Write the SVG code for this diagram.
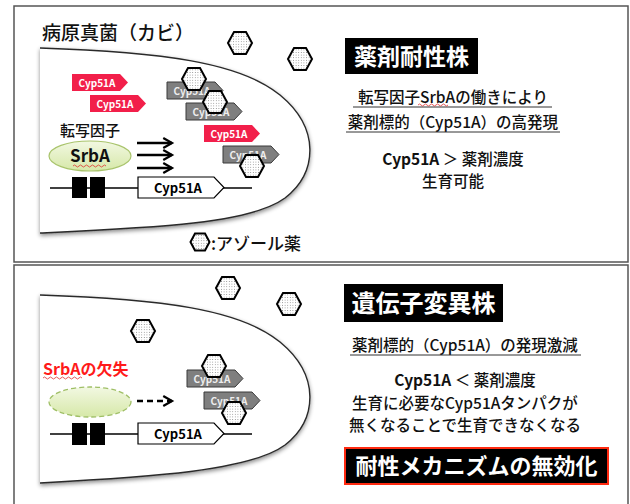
<svg xmlns="http://www.w3.org/2000/svg" width="630" height="504" viewBox="0 0 630 504">
  <style>
    .jp { font-family: "Noto Sans CJK JP", "Noto Sans", sans-serif; font-weight: 500; }
    .jp.b { font-weight: bold; }
    .panel { fill: #fff; stroke: #555; stroke-width: 1.5; }
    .cell { fill: #fff; stroke: #2a2a2a; stroke-width: 1.4; filter: url(#shadow); }
    .hex { fill: url(#dots); stroke: #000; stroke-width: 2; }
    .tag-red { fill: #f21f4a; }
    .tag-gray { fill: #7f7f7f; stroke: #3a3a3a; stroke-width: 1; }
    .tag-text { font-family: "Noto Sans CJK JP", "Open Sans", sans-serif; font-weight: bold; font-size: 10px; fill: #fff; text-anchor: middle; }
    .gray-text { fill: #eee; }
    .gene-line { stroke: #000; stroke-width: 1.6; }
    .gene-box { fill: #fff; stroke: #000; stroke-width: 1.2; }
    .gene-text { font-family: "Noto Sans CJK JP", "Open Sans", sans-serif; font-weight: bold; font-size: 13px; fill: #000; text-anchor: middle; }
    .body { font-size: 15.5px; fill: #111; }
    .center { text-anchor: middle; }
    .ul { stroke: #333; stroke-width: 1; }
    .squiggle { fill: none; stroke: #e03030; stroke-width: 0.8; }
    .arrow { stroke: #000; stroke-width: 2.5; fill: none; }
  </style>
  <defs>
    <pattern id="dots" width="2.6" height="2.6" patternUnits="userSpaceOnUse">
      <rect width="2.6" height="2.6" fill="#fff"/>
      <circle cx="1.3" cy="1.3" r="0.45" fill="#666"/>
    </pattern>
    <filter id="shadow" x="-10%" y="-10%" width="125%" height="130%">
      <feDropShadow dx="0" dy="2" stdDeviation="2" flood-color="#000" flood-opacity="0.45"/>
    </filter>
    <linearGradient id="srbaFill" x1="0" y1="0" x2="0" y2="1">
      <stop offset="0" stop-color="#f2f8e2"/>
      <stop offset="1" stop-color="#d6e8a8"/>
    </linearGradient>
    <polygon id="hexShape" points="-12,0 -6,-11 6,-11 12,0 6,11 -6,11"/>
    <polygon id="hexSmall" points="-9.5,0 -5,-8.5 5,-8.5 9.5,0 5,8.5 -5,8.5"/>
    <polygon id="tagShape" points="0,0 48,0 56,8.5 48,17 0,17"/>
    <marker id="chevron" viewBox="0 0 10 10" refX="8" refY="5" markerWidth="5" markerHeight="5" orient="auto" markerUnits="strokeWidth">
      <polyline points="1,1 8,5 1,9" fill="none" stroke="#000" stroke-width="1.8"/>
    </marker>
  </defs>

  <!-- upper panel: resistant strain -->
  <g id="panel-resistant">
    <rect class="panel" x="14" y="6" width="614" height="256"/>
    <text class="jp" x="42" y="40" font-size="19" fill="#111">病原真菌（カビ）</text>
    <path class="cell" d="M40,48 C160,52 240,62 280,95 C320,128 318,172 285,198 C250,224 150,228 40,233"/>
  </g>

  <g id="drug-outside-top">
    <use href="#hexShape" class="hex" x="240" y="43"/>
    <use href="#hexShape" class="hex" x="300" y="59"/>
  </g>

  <g id="cyp51a-proteins-top">
    <use href="#tagShape" class="tag-red" x="72" y="74"/>
    <text class="tag-text" x="97" y="86.5">Cyp51A</text>
    <use href="#tagShape" class="tag-red" x="90" y="95"/>
    <text class="tag-text" x="115" y="107.5">Cyp51A</text>
    <use href="#tagShape" class="tag-gray" x="167" y="82"/>
    <text class="tag-text gray-text" x="192" y="94.5">Cyp51A</text>
    <use href="#tagShape" class="tag-gray" x="186" y="103"/>
    <text class="tag-text gray-text" x="211" y="115.5">Cyp51A</text>
    <use href="#tagShape" class="tag-red" x="204" y="125"/>
    <text class="tag-text" x="229" y="137.5">Cyp51A</text>
    <use href="#tagShape" class="tag-gray" x="223" y="146"/>
    <text class="tag-text gray-text" x="248" y="158.5">Cyp51A</text>
  </g>

  <g id="drug-bound-top">
    <use href="#hexShape" class="hex" x="194" y="79"/>
    <use href="#hexShape" class="hex" x="215" y="102"/>
    <use href="#hexShape" class="hex" x="252" y="166"/>
  </g>

  <g id="srba-top">
    <text class="jp" x="60" y="136" font-size="15" fill="#111">転写因子</text>
    <ellipse cx="90" cy="156" rx="41" ry="15" fill="url(#srbaFill)" stroke="#a9c46c" stroke-width="1.2"/>
    <text class="jp b" x="90" y="162" font-size="17" fill="#111" text-anchor="middle">SrbA</text>
    <path class="squiggle" d="M73,166 q1.5,-2 3,0 t3,0 t3,0 t3,0 t3,0 t3,0 t3,0 t3,0 t3,0 t3,0 t3,0"/>
  </g>

  <g id="gene-top">
    <line class="gene-line" x1="50" y1="188" x2="252" y2="188"/>
    <rect x="72" y="177" width="15" height="21" fill="#000"/>
    <rect x="90" y="177" width="15" height="21" fill="#000"/>
    <polygon class="gene-box" points="138,177 214,177 224,187.5 214,198 138,198"/>
    <text class="gene-text" x="178" y="193">Cyp51A</text>
  </g>

  <g id="legend">
    <use href="#hexSmall" class="hex" x="200" y="242"/>
    <text class="jp" x="211" y="250" font-size="17" fill="#111">:アゾール薬</text>
  </g>

  <g id="label-resistant">
    <rect x="345" y="38" width="133" height="36" fill="#000"/>
    <text class="jp b" x="411.5" y="65" font-size="23" fill="#fff" text-anchor="middle">薬剤耐性株</text>
    <text class="jp body center" x="453" y="103">転写因子SrbAの働きにより</text>
    <line class="ul" x1="353" y1="107" x2="552" y2="107"/>
    <path class="squiggle" d="M418,105 q1.5,-2 3,0 t3,0 t3,0 t3,0 t3,0 t3,0 t3,0 t3,0 t3,0 t3,0"/>
    <text class="jp body center" x="453" y="128">薬剤標的（Cyp51A）の高発現</text>
    <line class="ul" x1="346" y1="132" x2="560" y2="132"/>
    <text class="jp body center" x="453" y="165" font-size="16"><tspan font-weight="bold">Cyp51A</tspan> ＞ 薬剤濃度</text>
    <text class="jp body center" x="453" y="187" font-size="16">生育可能</text>
  </g>

  <!-- lower panel: gene-disrupted strain -->
  <g id="panel-mutant">
    <rect class="panel" x="14" y="265" width="614" height="250"/>
    <path class="cell" d="M40,295 C160,299 240,309 280,342 C320,375 318,419 285,445 C250,471 150,477 40,483"/>
  </g>

  <g id="drug-outside-bottom">
    <use href="#hexShape" class="hex" x="228" y="288"/>
    <use href="#hexShape" class="hex" x="289" y="304"/>
    <use href="#hexShape" class="hex" x="143" y="331"/>
  </g>

  <g id="cyp51a-proteins-bottom">
    <use href="#tagShape" class="tag-gray" x="187" y="370"/>
    <text class="tag-text gray-text" x="212" y="382.5">Cyp51A</text>
    <use href="#tagShape" class="tag-gray" x="204" y="392"/>
    <text class="tag-text gray-text" x="229" y="404.5">Cyp51A</text>
  </g>

  <g id="drug-bound-bottom">
    <use href="#hexShape" class="hex" x="214" y="366"/>
    <use href="#hexShape" class="hex" x="234" y="413"/>
  </g>

  <g id="srba-deleted">
    <text class="jp b" x="43" y="375" font-size="16" fill="#ff1a1a">SrbAの欠失</text>
    <path class="squiggle" d="M43,378 q1.5,-2 3,0 t3,0 t3,0 t3,0 t3,0 t3,0 t3,0 t3,0 t3,0 t3,0 t3,0 t3,0 t3,0"/>
    <ellipse cx="90" cy="402" rx="41" ry="15" fill="url(#srbaFill)" stroke="#9fbf66" stroke-width="1.3" stroke-dasharray="5,3"/>
  </g>

  <g id="gene-bottom">
    <line class="gene-line" x1="50" y1="434" x2="252" y2="434"/>
    <rect x="72" y="423" width="15" height="22" fill="#000"/>
    <rect x="90" y="423" width="15" height="22" fill="#000"/>
    <polygon class="gene-box" points="138,423 214,423 224,433.5 214,444 138,444"/>
    <text class="gene-text" x="178" y="439">Cyp51A</text>
  </g>

  <g id="connectors">
    <line class="arrow" x1="137" y1="143" x2="172" y2="143" marker-end="url(#chevron)"/>
    <line class="arrow" x1="137" y1="155" x2="172" y2="155" marker-end="url(#chevron)"/>
    <line class="arrow" x1="137" y1="168" x2="172" y2="168" marker-end="url(#chevron)"/>
    <line class="arrow" x1="137" y1="401" x2="172" y2="401" stroke-dasharray="6,4" marker-end="url(#chevron)"/>
  </g>

  <g id="label-mutant">
    <rect x="344" y="284" width="159" height="38" fill="#000"/>
    <text class="jp b" x="423.5" y="312" font-size="24" fill="#fff" text-anchor="middle">遺伝子変異株</text>
    <text class="jp body center" x="465" y="351">薬剤標的（Cyp51A）の発現激減</text>
    <line class="ul" x1="350" y1="355" x2="581" y2="355"/>
    <text class="jp body center" x="465" y="386" font-size="16"><tspan font-weight="bold">Cyp51A</tspan> ＜ 薬剤濃度</text>
    <text class="jp body center" x="465" y="409">生育に必要なCyp51Aタンパクが</text>
    <text class="jp body center" x="465" y="431">無くなることで生育できなくなる</text>
    <rect x="345" y="448" width="263" height="36" fill="#000" stroke="#ff2a10" stroke-width="2"/>
    <text class="jp b" x="476.5" y="474" font-size="22" fill="#fff" text-anchor="middle">耐性メカニズムの無効化</text>
  </g>
</svg>
